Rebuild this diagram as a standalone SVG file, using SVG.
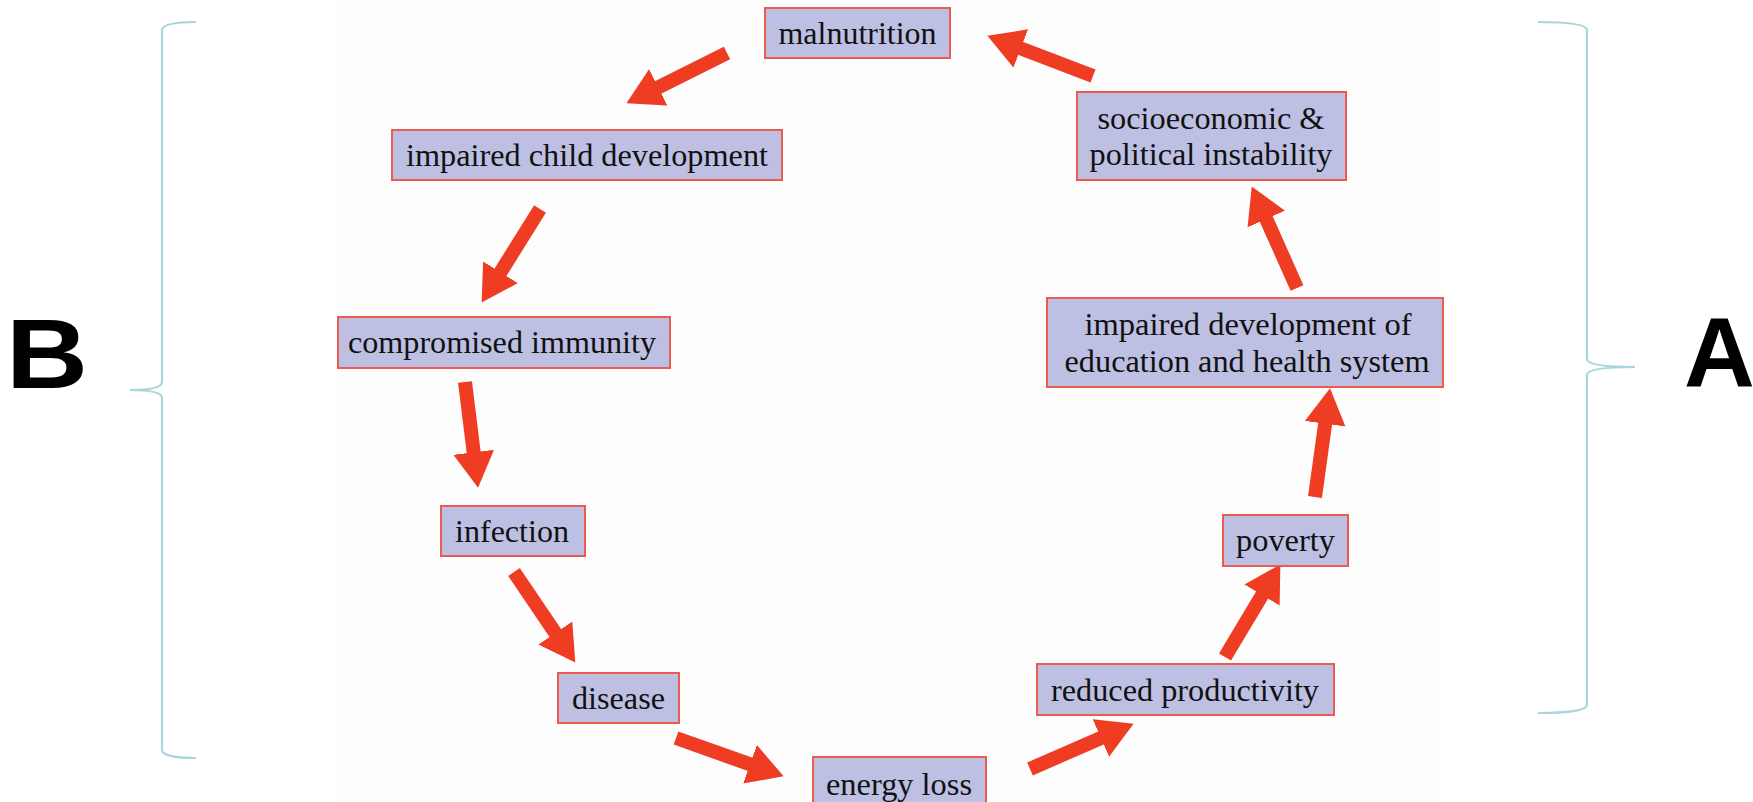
<svg xmlns="http://www.w3.org/2000/svg" width="1753" height="802" viewBox="0 0 1753 802">
<style>
.box{fill:#BDC0E2;stroke:#EC5A50;stroke-width:2}
.t{font-family:"Liberation Serif","Times New Roman",serif;font-size:31px;fill:#111111;text-anchor:middle}
.arr{stroke:#EE3D23;stroke-width:14;fill:none;marker-end:url(#head)}
.brace{fill:none;stroke:#A9D6DB;stroke-width:2.2}
.big{font-family:"Liberation Sans",Arial,sans-serif;font-weight:bold;font-size:98px;fill:#000}
</style>
<defs>
<marker id="head" viewBox="0 0 27 31" refX="2" refY="15.5" markerWidth="2.55" markerHeight="2.95" orient="auto" markerUnits="strokeWidth">
<path d="M0,0 L27,15.5 L0,31 Z" fill="#EE3D23"/>
</marker>
</defs>
<rect x="0" y="0" width="1753" height="802" fill="#FFFFFF"/>
<rect x="338" y="0" width="1104" height="802" fill="#FDFDFD"/>

<g id="braces">
<path class="brace" d="M196,22 Q163,22 162,30 L162,382 Q162,390 130,390 Q162,390 162,398 L162,750 Q163,758 196,758"/>
<path class="brace" d="M1538,22 Q1586,22 1587,30 L1587,359 Q1587,367 1635,367 Q1587,367 1587,375 L1587,705 Q1586,713 1538,713"/>
</g>
<text id="labelB" class="big" x="6" y="388" textLength="82" lengthAdjust="spacingAndGlyphs">B</text>
<text id="labelA" class="big" x="1684" y="386">A</text>

<g id="connectors">
<line class="arr" x1="727" y1="53" x2="656" y2="88.5"/>
<line class="arr" x1="540" y1="209" x2="499.1" y2="274.5"/>
<line class="arr" x1="465" y1="382" x2="474" y2="454.9"/>
<line class="arr" x1="514" y1="572" x2="556.8" y2="635.2"/>
<line class="arr" x1="676" y1="738" x2="752.5" y2="765.2"/>
<line class="arr" x1="1030" y1="769" x2="1103.3" y2="737"/>
<line class="arr" x1="1225" y1="657" x2="1263.4" y2="592.8"/>
<line class="arr" x1="1315" y1="497" x2="1325.5" y2="421.1"/>
<line class="arr" x1="1297" y1="288" x2="1265.2" y2="216.6"/>
<line class="arr" x1="1093" y1="76" x2="1018.3" y2="47.5"/>
</g>

<g id="n-malnutrition"><rect class="box" x="765" y="8" width="185" height="50"/><text class="t" x="857.5" y="44" textLength="158" lengthAdjust="spacingAndGlyphs">malnutrition</text></g>
<g id="n-child"><rect class="box" x="392" y="130" width="390" height="50"/><text class="t" x="587" y="166" textLength="362" lengthAdjust="spacingAndGlyphs">impaired child development</text></g>
<g id="n-immunity"><rect class="box" x="338" y="317" width="332" height="51"/><text class="t" x="502" y="353" textLength="308" lengthAdjust="spacingAndGlyphs">compromised immunity</text></g>
<g id="n-infection"><rect class="box" x="441" y="506" width="144" height="50"/><text class="t" x="512" y="542" textLength="114" lengthAdjust="spacingAndGlyphs">infection</text></g>
<g id="n-disease"><rect class="box" x="558" y="673" width="121" height="50"/><text class="t" x="618.5" y="709" textLength="93" lengthAdjust="spacingAndGlyphs">disease</text></g>
<g id="n-energy"><rect class="box" x="813" y="757" width="173" height="52"/><text class="t" x="899" y="795" textLength="146" lengthAdjust="spacingAndGlyphs">energy loss</text></g>
<g id="n-productivity"><rect class="box" x="1037" y="664" width="297" height="51"/><text class="t" x="1185" y="701" textLength="268" lengthAdjust="spacingAndGlyphs">reduced productivity</text></g>
<g id="n-poverty"><rect class="box" x="1223" y="515" width="125" height="51"/><text class="t" x="1285.5" y="551" textLength="99" lengthAdjust="spacingAndGlyphs">poverty</text></g>
<g id="n-education"><rect class="box" x="1047" y="298" width="396" height="89"/><text class="t" x="1248" y="335" textLength="327" lengthAdjust="spacingAndGlyphs">impaired development of</text><text class="t" x="1247" y="372" textLength="365" lengthAdjust="spacingAndGlyphs">education and health system</text></g>
<g id="n-instability"><rect class="box" x="1077" y="92" width="269" height="88"/><text class="t" x="1211" y="129" textLength="227" lengthAdjust="spacingAndGlyphs">socioeconomic &amp;</text><text class="t" x="1211" y="165" textLength="243" lengthAdjust="spacingAndGlyphs">political instability</text></g>
</svg>
